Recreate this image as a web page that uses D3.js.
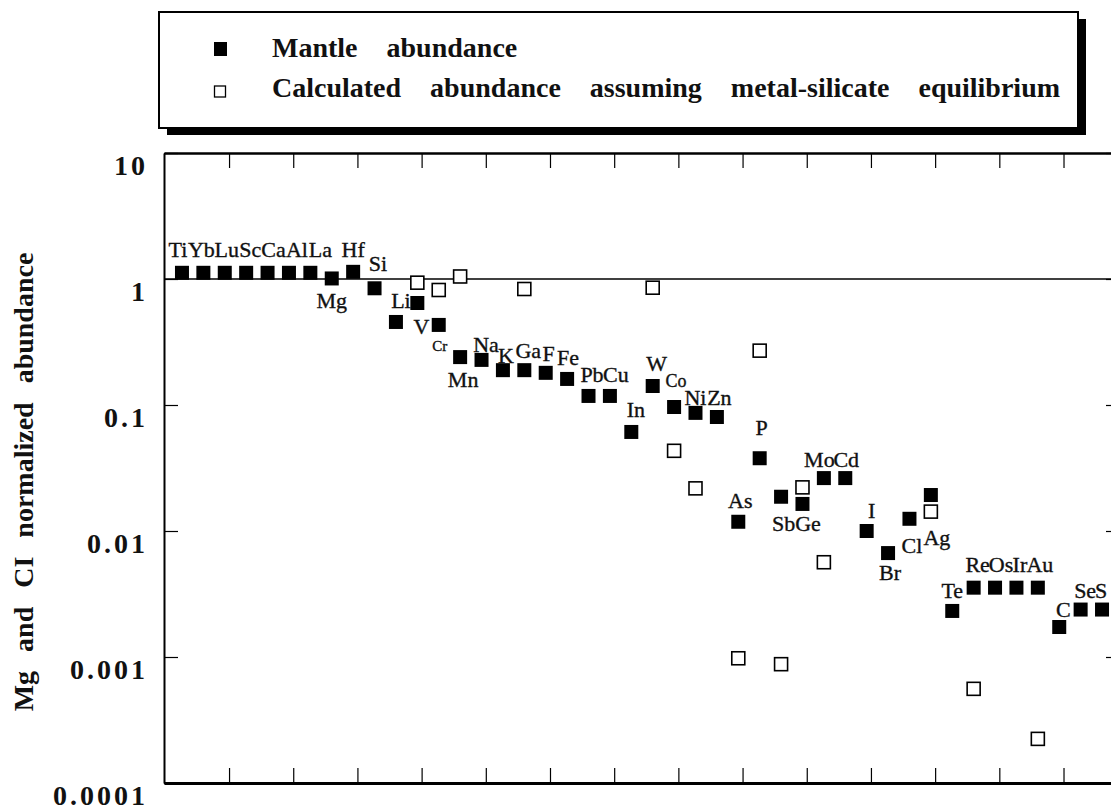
<!DOCTYPE html>
<html>
<head>
<meta charset="utf-8">
<title>Mantle abundance</title>
<script src="https://cdn.jsdelivr.net/npm/d3@7"></script>
<style>
  body { margin: 0; background: #fff; }
  text { font-family: "Liberation Serif", "Times New Roman", serif; fill: #111; }
</style>
</head>
<body>
<script>
/* data */
var elements = ["Ti","Yb","Lu","Sc","Ca","Al","La","Mg","Hf","Si","Li","V","Cr","Mn","Na","K","Ga","F","Fe","Pb","Cu","In","W","Co","Ni","Zn","As","P","Sb","Ge","Mo","Cd","I","Br","Cl","Ag","Te","Re","Os","Ir","Au","C","Se","S"];

// filled squares
var mantle = [1.12,1.12,1.12,1.12,1.12,1.12,1.12,1.01,1.14,0.844,
              0.456,0.645,0.432,0.240,0.228,0.189,0.189,0.180,0.161,0.118,
              0.118,0.0611,0.1415,0.0964,0.0866,0.0803,0.01184,0.0378,0.0187,0.0164,
              0.0263,0.0263,0.0100,0.00668,0.0125,0.0193,0.00232,0.00355,0.00355,0.00355,
              0.00355,0.00173,0.00238,0.00238];

// open squares (null = not calculated)
var calculated = [null,null,null,null,null,null,null,null,null,null,
                  null,0.935,0.818,1.047,null,null,0.833,null,null,null,
                  null,null,0.853,0.0433,0.0218,null,0.000977,0.270,0.000877,0.0222,
                  0.00565,null,null,null,null,0.01425,null,0.000559,null,null,
                  0.000224,null,null,null];

var yTickValues = [10, 1, 0.1, 0.01, 0.001, 0.0001];
var yTickLabels = ["10", "1", "0.1", "0.01", "0.001", "0.0001"];
var legendLabels = ["Mantle abundance", "Calculated abundance assuming metal-silicate equilibrium"];

/* label placement next to each square: [dx, dy, font size] */
var labelPlace = [
  [-4,-16,22],[-2,-16,22],[2,-16,22],[4,-16,22],[6,-16,22],[8,-16,22],[10,-16,22],
  [0,30,22],[0,-15,22],[3.5,-17.5,22],[5,-14,22],[4,31,22],[1,26,15],[3,30,22],
  [4.5,-8,22],[3,-7,22],[4,-12,22],[3,-12,22],[1,-14,22],[3.5,-14,22],[6,-14,22],
  [4.5,-15,22],[4,-15,22],[2,-20,18],[0,-8,22],[2.5,-12,22],[2,-14,22],[2,-23,22],
  [2.5,34,22],[5.5,27,22],[-4.5,-11,22],[1,-11,22],[5,-13,22],[2,27,22],[2.5,34,22],
  [6,50,22],[0,-13,22],[4,-16,22],[6,-16,22],[3.5,-16,22],[2,-16,22],[4,-10,22],
  [4.5,-12,22],[-1,-12,22]
];

var width = 1111, height = 809;
var plotLeft = 164, plotRight = 1120, plotTop = 153, plotBottom = 783;

var svg = d3.select("body").append("svg")
    .attr("width", width)
    .attr("height", height);

svg.append("rect").attr("width", width).attr("height", height).attr("fill", "#fff");

var x = d3.scaleLinear().domain([-0.84, 43.84]).range([plotLeft, plotRight]);
var y = d3.scaleLog().domain([0.0001, 10]).range([plotBottom, plotTop]);

/* legend */
var lg = svg.append("g");
lg.append("rect").attr("x", 167).attr("y", 19).attr("width", 919).attr("height", 116).attr("fill", "#000");
lg.append("rect").attr("x", 159).attr("y", 12).attr("width", 919).attr("height", 116)
    .attr("fill", "#fff").attr("stroke", "#000").attr("stroke-width", 2);
lg.append("rect").attr("x", 214).attr("y", 42).attr("width", 13).attr("height", 14).attr("fill", "#000");
lg.append("rect").attr("x", 214.5).attr("y", 86).attr("width", 11).attr("height", 11)
    .attr("fill", "#fff").attr("stroke", "#000").attr("stroke-width", 1.3);
lg.selectAll("text.leg")
    .data(legendLabels)
    .enter().append("text")
    .attr("class", "leg")
    .attr("x", 272)
    .attr("y", function(d, i) { return 57 + i * 40; })
    .attr("font-size", 28)
    .attr("font-weight", "bold")
    .style("word-spacing", "22px")
    .text(function(d) { return d; });

/* frame + axes */
var xTicks = d3.range(2.2, 43, 3);

svg.append("g").attr("transform", "translate(0," + plotBottom + ")")
    .call(d3.axisTop(x).tickValues(xTicks).tickSizeInner(15).tickSizeOuter(0).tickFormat(""))
    .call(function(g) { g.select(".domain").attr("stroke-width", 3); })
    .selectAll(".tick line").attr("stroke-width", 1.2);

svg.append("g").attr("transform", "translate(0," + plotTop + ")")
    .call(d3.axisBottom(x).tickValues(xTicks).tickSizeInner(15).tickSizeOuter(0).tickFormat(""))
    .call(function(g) { g.select(".domain").attr("stroke-width", 2.5); })
    .selectAll(".tick line").attr("stroke-width", 1.2);

var yAxis = svg.append("g").attr("transform", "translate(" + plotLeft + ",0)")
    .call(d3.axisLeft(y).tickValues(yTickValues).tickSizeInner(-14).tickSizeOuter(0).tickPadding(16)
        .tickFormat(function(d, i) { return yTickLabels[i]; }));
yAxis.select(".domain").attr("stroke-width", 2);
yAxis.selectAll(".tick line").attr("stroke-width", 1.2);
yAxis.selectAll(".tick text")
    .attr("dy", 21)
    .attr("font-size", 28)
    .attr("font-weight", "bold")
    .attr("font-family", "Liberation Serif")
    .attr("fill", "#111")
    .style("letter-spacing", "3px");

svg.append("g").attr("transform", "translate(" + plotRight + ",0)")
    .call(d3.axisLeft(y).tickValues(yTickValues).tickSizeInner(14).tickSizeOuter(0).tickFormat(""))
    .call(function(g) { g.select(".domain").attr("stroke-width", 2); })
    .selectAll(".tick line").attr("stroke-width", 1.2);

// reference line at 1
svg.append("line")
    .attr("x1", plotLeft).attr("x2", plotRight)
    .attr("y1", y(1)).attr("y2", y(1))
    .attr("stroke", "#000").attr("stroke-width", 1.5);

svg.append("text")
    .attr("transform", "translate(33,482) rotate(-90)")
    .attr("text-anchor", "middle")
    .attr("font-size", 28)
    .attr("font-weight", "bold")
    .style("word-spacing", "12px")
    .text("Mg and CI normalized abundance");

/* squares */
var sq = 14, osq = 13;

svg.selectAll("rect.calc")
    .data(calculated.map(function(v, i) { return { i: i, v: v }; }).filter(function(d) { return d.v != null; }))
    .enter().append("rect")
    .attr("class", "calc")
    .attr("x", function(d) { return x(d.i) - osq / 2; })
    .attr("y", function(d) { return y(d.v) - osq / 2; })
    .attr("width", osq).attr("height", osq)
    .attr("fill", "#fff").attr("stroke", "#000").attr("stroke-width", 1.6);

svg.selectAll("rect.mantle")
    .data(mantle)
    .enter().append("rect")
    .attr("class", "mantle")
    .attr("x", function(d, i) { return x(i) - sq / 2; })
    .attr("y", function(d) { return y(d) - sq / 2; })
    .attr("width", sq).attr("height", sq)
    .attr("fill", "#000");

svg.selectAll("text.el")
    .data(elements)
    .enter().append("text")
    .attr("class", "el")
    .attr("text-anchor", "middle")
    .attr("x", function(d, i) { return x(i) + labelPlace[i][0]; })
    .attr("y", function(d, i) { return y(mantle[i]) + labelPlace[i][1]; })
    .attr("font-size", function(d, i) { return labelPlace[i][2]; })
    .attr("stroke", "#111")
    .attr("stroke-width", 0.35)
    .text(function(d) { return d; });
</script>
</body>
</html>
